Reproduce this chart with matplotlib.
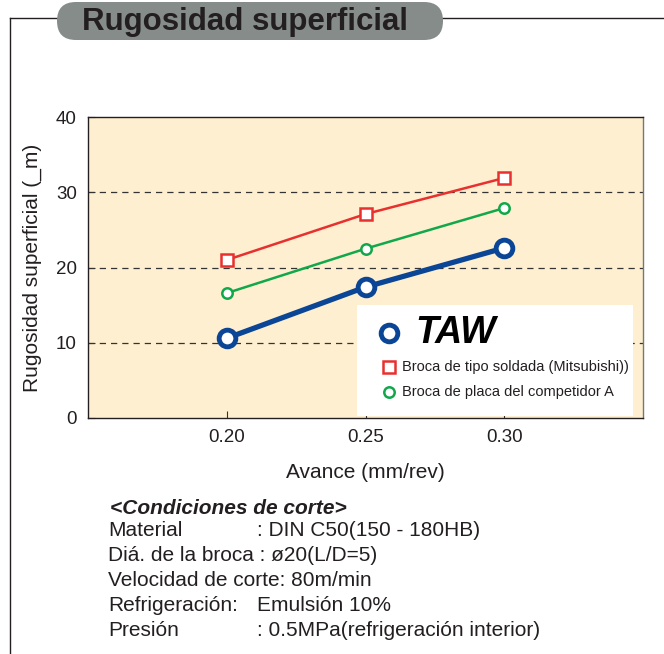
import numpy as np
import matplotlib.pyplot as plt
from matplotlib.lines import Line2D
from matplotlib.patches import FancyBboxPatch, Rectangle

plt.rcParams['font.family'] = ['Liberation Sans', 'DejaVu Sans']

avance = [0.20, 0.25, 0.30]
taw = [10.6, 17.4, 22.6]
soldada = [21.0, 27.1, 31.9]
competidor = [16.6, 22.5, 27.9]
x_ticks = [0.20, 0.25, 0.30]
x_labels = ['0.20', '0.25', '0.30']
y_ticks = [0, 10, 20, 30, 40]

label_taw = 'TAW'
label_soldada = 'Broca de tipo soldada (Mitsubishi))'
label_comp = 'Broca de placa del competidor A'

condiciones = [
    ('Material', ': DIN C50(150 - 180HB)'),
    ('Diá. de la broca : ø20(L/D=5)', ''),
    ('Velocidad de corte: 80m/min', ''),
    ('Refrigeración:', 'Emulsión 10%'),
    ('Presión', ': 0.5MPa(refrigeración interior)'),
]

blue = '#0b4596'
red = '#e8302f'
green = '#10a84a'
ink = '#231f20'

fig = plt.figure(figsize=(6.64, 6.54), dpi=100)
W, H = 664, 654

# overlay in pixel coordinates for frame, title and notes
bg = fig.add_axes([0, 0, 1, 1])
bg.set_xlim(0, W)
bg.set_ylim(H, 0)
bg.axis('off')
bg.plot([10, W], [18, 18], color=ink, lw=1.0)
bg.plot([10, 10], [18, H], color=ink, lw=1.0)
pill = FancyBboxPatch((57, 2), 386, 38, boxstyle='round,pad=0,rounding_size=19',
                      facecolor='#858c8a', edgecolor='none', zorder=3)
bg.add_patch(pill)
bg.text(82, 22, 'Rugosidad superficial', fontsize=22.5, fontweight='bold',
        color=ink, va='center', ha='left', zorder=4)

bg.text(110, 508, '<Condiciones de corte>', fontsize=15, fontweight='bold',
        fontstyle='italic', color=ink, va='center')
for i, (a, b) in enumerate(condiciones):
    yy = 531 + i * 24.8
    bg.text(108, yy, a, fontsize=15, color=ink, va='center')
    if b:
        xb = 257 if a.startswith('Refrig') else 257
        bg.text(xb, yy, b, fontsize=15, color=ink, va='center')

ax = fig.add_axes([88 / W, 1 - 418 / H, 555 / W, 301 / H])
ax.set_facecolor('#feefd0')

for yv in [10, 20, 30]:
    ax.axhline(yv, color='#333333', lw=0.9, ls=(0, (5, 4)), zorder=1)

ax.plot(avance, soldada, color=red, lw=1.8, marker='s', ms=8, mfc='white',
        mec=red, mew=1.8, zorder=3)
ax.plot(avance, competidor, color=green, lw=1.8, marker='o', ms=7.5, mfc='white',
        mec=green, mew=1.8, zorder=3)
ax.plot(avance, taw, color=blue, lw=3.8, marker='o', ms=12, mfc='white',
        mec=blue, mew=3.5, zorder=4)

ax.set_xlim(0.15, 0.35)
ax.set_ylim(0, 40)
ax.set_xticks(x_ticks)
ax.set_xticklabels(x_labels)
ax.set_yticks(y_ticks)
ax.tick_params(direction='in', length=5, width=0.8, labelsize=13.5, color='#333333',
               labelcolor=ink, pad=8)
for s in ['left', 'bottom', 'top']:
    ax.spines[s].set_color(ink)
    ax.spines[s].set_linewidth(1.0)
ax.spines['right'].set_color('#777777')
ax.spines['right'].set_linewidth(1.0)

ax.set_xlabel('Avance (mm/rev)', fontsize=15, color=ink, labelpad=12)
ax.set_ylabel('Rugosidad superficial (_m)', fontsize=15, color=ink, labelpad=10)

# legend box, drawn by hand in axes coordinates
def ax_xy(px, py):
    return (px - 88) / 555, (418 - py) / 301

bx, by = ax_xy(357, 416)
ax.add_patch(Rectangle((bx, by), 276 / 555, 111 / 301, transform=ax.transAxes,
                       facecolor='white', edgecolor='none', zorder=5))
leg_items = [
    (label_taw, dict(marker='o', ms=12, mec=blue, mew=3.5), 333, 415,
     dict(fontsize=27, fontweight='bold', fontstyle='italic', color='black')),
    (label_soldada, dict(marker='s', ms=8, mec=red, mew=1.8), 367, 402,
     dict(fontsize=10.5, color=ink)),
    (label_comp, dict(marker='o', ms=7.5, mec=green, mew=1.8), 392, 402,
     dict(fontsize=10.5, color=ink)),
]
for label, mk, py, tx, tstyle in leg_items:
    mx, my = ax_xy(389 if label != label_taw else 389, py)
    ax.plot([mx], [my], ls='none', mfc='white', transform=ax.transAxes,
            clip_on=False, zorder=6, **mk)
    tx_, ty_ = ax_xy(tx, py)
    ax.text(tx_, ty_, label, transform=ax.transAxes, va='center', ha='left',
            zorder=6, **tstyle)

fig.savefig('out.png', dpi=100)
